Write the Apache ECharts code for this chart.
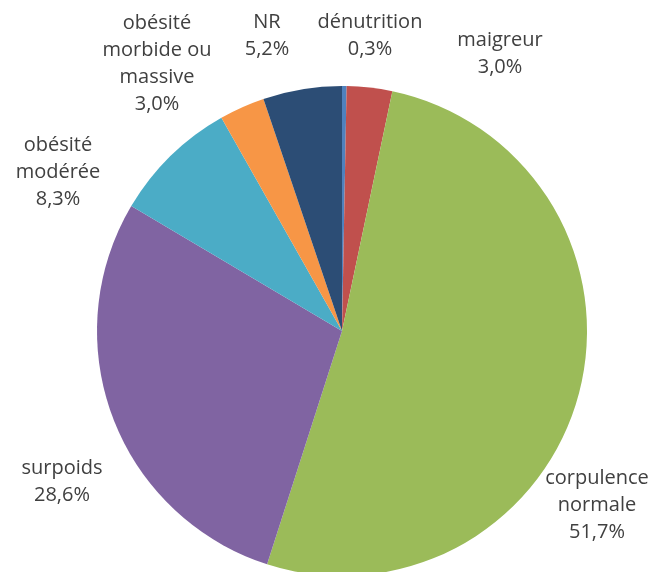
<!DOCTYPE html>
<html>
<head>
<meta charset="utf-8">
<script src="https://cdn.jsdelivr.net/npm/echarts@6/dist/echarts.min.js"></script>
<style>
  html, body { margin: 0; padding: 0; background: #fff; }
  #chart { width: 653px; height: 572px; }
</style>
</head>
<body>
<div id="chart"></div>
<script>
// données du graphique
const categories = ['dénutrition', 'maigreur', 'corpulence\nnormale', 'surpoids', 'obésité\nmodérée', 'obésité\nmorbide ou\nmassive', 'NR']
const values = [0.3, 3.0, 51.7, 28.6, 8.3, 3.0, 5.2]
const colors = ['#4F81BD', '#C0504D', '#9BBB59', '#8064A2', '#4BACC6', '#F79646', '#2C4D75']

// position des étiquettes (décalage par rapport au centre du camembert)
const labelOffsets = [[28, -295], [158, -277], [255, 174], [-280, 151], [-284, -159], [-185, -267], [-75, -295]]
const cx = 342
const cy = 331

const chart = echarts.init(document.getElementById('chart'))
const option = {
  animation: false,
  series: [{
    type: 'pie',
    center: [cx, cy],
    radius: [0, 245],
    startAngle: 90,
    clockwise: true,
    avoidLabelOverlap: false,
    data: categories.map((c, i) => ({
      name: c,
      value: values[i],
      itemStyle: { color: colors[i] }
    })),
    label: {
      show: true,
      position: 'outside',
      formatter: p => p.name + '\n' + p.value.toFixed(1).replace('.', ',') + '%',
      fontFamily: 'Open Sans',
      fontSize: 20,
      lineHeight: 27,
      color: '#404040',
      align: 'center'
    },
    labelLine: { show: false },
    labelLayout: p => ({
      x: cx + labelOffsets[p.dataIndex][0],
      y: cy + labelOffsets[p.dataIndex][1],
      align: 'center',
      verticalAlign: 'middle'
    })
  }]
}
chart.setOption(option)
</script>
</body>
</html>
